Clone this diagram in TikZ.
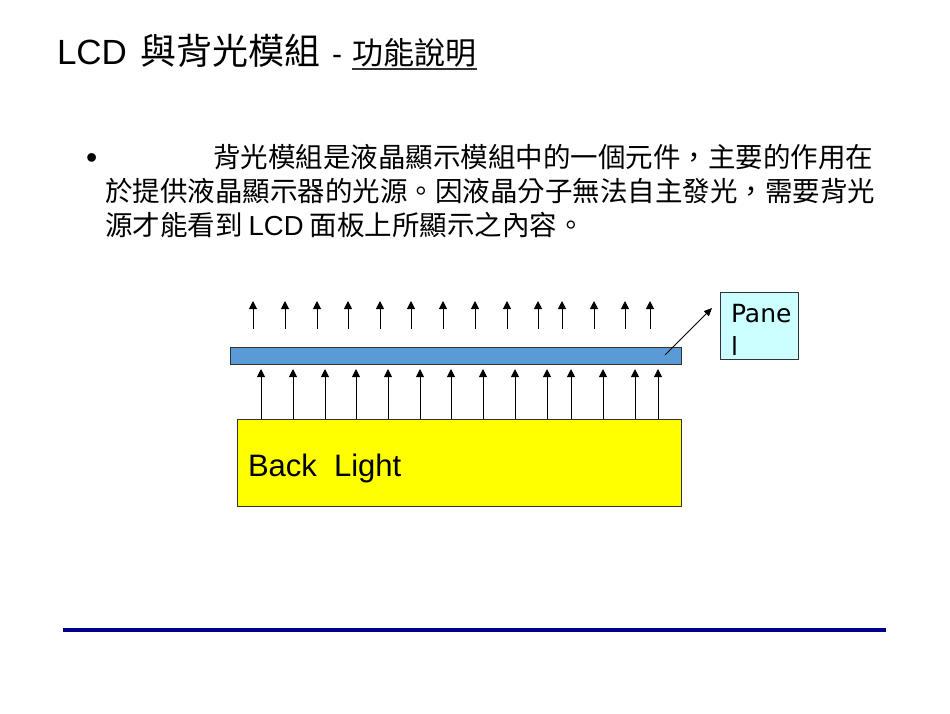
\documentclass[tikz,border=0pt]{standalone}
\usepackage{fontspec}
\setmainfont{Liberation Sans}
\newfontfamily\cjk{Noto Sans CJK TC}
\newfontfamily\dvsans{DejaVu Sans}
\usetikzlibrary{arrows.meta}
\definecolor{barblue}{RGB}{91,155,213}
\definecolor{panelcyan}{RGB}{204,255,255}
\definecolor{rulenavy}{RGB}{0,0,140}
\definecolor{pureyellow}{RGB}{255,255,0}
\begin{document}
\begin{tikzpicture}[x=1pt,y=-1pt,
  lightarrow/.style={-{Triangle[length=8pt,width=8pt]}, line width=1pt, black},
  txt/.style={anchor=base west, inner sep=0pt, outer sep=0pt},
  shapebox/.style={draw=black!80, line width=0.8pt, inner sep=0pt, outer sep=0pt, rectangle}
]
\useasboundingbox (0,0) rectangle (950,713);
\fill[white] (0,0) rectangle (950,713);

% title
\node[txt] (t1) at (57,64) {\fontsize{35}{40}\selectfont LCD};
\node[txt] (t2) at (140,64) {\fontsize{36}{40}\selectfont\cjk 與背光模組};
\node[txt] (t3) at (332,64) {\fontsize{30}{40}\selectfont -};
\node[txt] (t4) at (352,64) {\fontsize{31}{40}\selectfont\cjk 功能說明};
\draw[line width=1.4pt, black!80] (352,69) -- (477,69);

% body
\node[txt] (bul) at (86,168) {\fontsize{32}{36}\selectfont •};
\node[txt] (l1) at (213,167) {\fontsize{27.5}{34}\selectfont\cjk 背光模組是液晶顯示模組中的一個元件，主要的作用在};
\node[txt] (l2) at (105,201) {\fontsize{27.5}{34}\selectfont\cjk 於提供液晶顯示器的光源。因液晶分子無法自主發光，需要背光};
\node[txt] (l3) at (105,235) {\fontsize{27.5}{34}\selectfont\cjk 源才能看到 {\fontspec{Liberation Sans}LCD} 面板上所顯示之內容。};

% backlight
\node[shapebox, fill=pureyellow, minimum width=444pt, minimum height=87pt] (bl) at (459,462.5) {};
\node[txt] (bltext) at (248,476) {\fontsize{31}{36}\selectfont Back\ \ Light};

% panel bar
\node[shapebox, fill=barblue, minimum width=451pt, minimum height=17pt] (bar) at (455.5,355.5) {};

% panel label
\node[shapebox, fill=panelcyan, minimum width=78pt, minimum height=67pt] (panel) at (759.5,326) {};
\node[txt] (pl1) at (731,322) {\fontsize{25}{27}\selectfont\dvsans Pane};
\node[txt] (pl2) at (731,355) {\fontsize{25}{27}\selectfont\dvsans l};

% leader arrow
\coordinate (lstart) at (665,355);
\coordinate (lend) at (712,308);
\draw[-{Triangle[length=8pt,width=7pt]}, line width=0.8pt] (lstart) -- (lend);

% light arrows above panel
\foreach \x in {253,285,317,348,380,411,443,475,507,538,562,594,625,650}{
  \draw[lightarrow] (\x,329) -- (\x,301);
}
% light arrows between backlight and panel
\foreach \x in {261,293,325,356,388,420,451,483,515,547,571,603,635,658}{
  \draw[lightarrow] (\x,419) -- (\x,369);
}

% bottom rule
\coordinate (r1) at (63,630);
\coordinate (r2) at (886,630);
\draw[line width=4pt, rulenavy] (r1) -- (r2);
\end{tikzpicture}
\end{document}
